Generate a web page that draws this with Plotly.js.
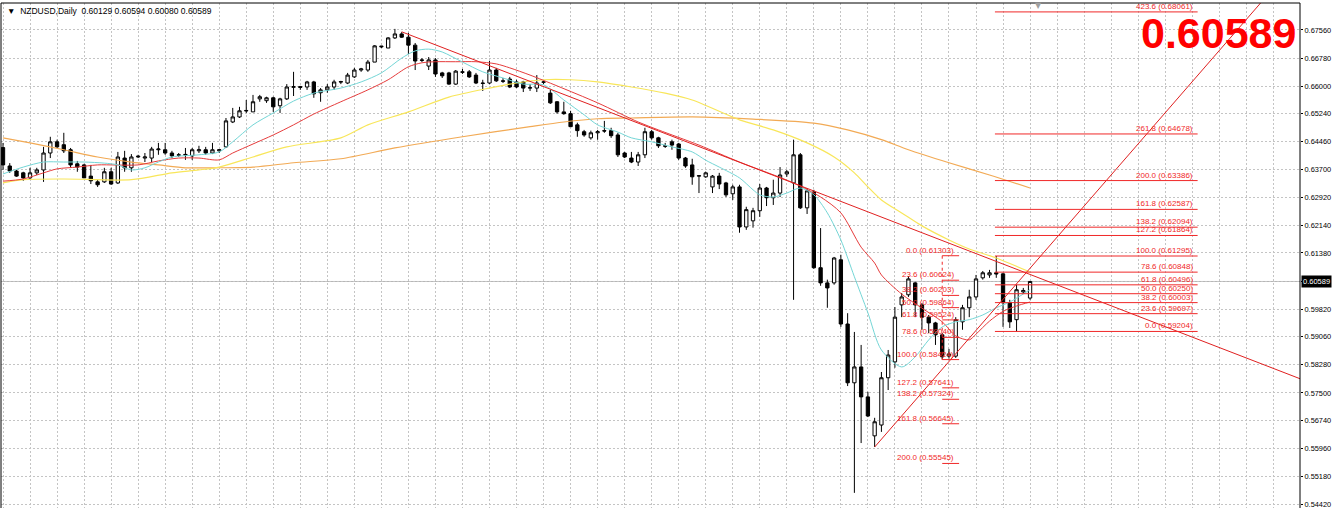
<!DOCTYPE html>
<html><head><meta charset="utf-8">
<script src="https://cdn.plot.ly/plotly-3.0.1.min.js"></script>
<style>html,body{margin:0;padding:0;background:#fff;overflow:hidden}#chart{width:1332px;height:508px}</style>
</head><body><div id="chart"></div>
<script>
// ---------- data ----------
const symbolLabel = "NZDUSD,Daily";
const lastOHLC = ["0.60129", "0.60594", "0.60080", "0.60589"];
const lastPriceText = "0.60589";
const lastPrice = 0.60589;

const opens = [0.6430,0.6379,0.6365,0.6360,0.6346,0.6360,0.6368,0.6415,0.6446,0.6438,
0.6424,0.6385,0.6382,0.6351,0.6335,0.6335,0.6363,0.6332,0.6401,0.6374,
0.6404,0.6401,0.6401,0.6424,0.6424,0.6415,0.6410,0.6409,0.6407,0.6421,
0.6424,0.6415,0.6421,0.6432,0.6501,0.6515,0.6533,0.6529,0.6565,0.6560,
0.6568,0.6546,0.6565,0.6597,0.6599,0.6598,0.6612,0.6582,0.6590,0.6598,
0.6613,0.6609,0.6626,0.6645,0.6645,0.6667,0.6709,0.6706,0.6734,0.6745,
0.6736,0.6714,0.6673,0.6656,0.6673,0.6637,0.6637,0.6606,0.6640,0.6640,
0.6631,0.6609,0.6609,0.6645,0.6615,0.6620,0.6612,0.6612,0.6595,0.6595,
0.6611,0.6581,0.6557,0.6529,0.6524,0.6493,0.6474,0.6457,0.6471,0.6477,
0.6477,0.6465,0.6415,0.6401,0.6390,0.6410,0.6474,0.6457,0.6435,0.6446,
0.6440,0.6401,0.6382,0.6351,0.6349,0.6321,0.6351,0.6332,0.6302,0.6321,
0.6210,0.6227,0.6255,0.6318,0.6291,0.6304,0.6357,0.6332,0.6410,0.6263,
0.6307,0.6097,0.6055,0.6055,0.6119,0.5941,0.5778,0.5822,0.5739,0.5631,
0.5661,0.5792,0.5836,0.5994,0.6022,0.6055,0.5994,0.5960,0.5944,0.5911,
0.5852,0.5852,0.5947,0.5986,0.6016,0.6069,0.6077,0.6083,0.6080,0.6000,
0.5953,0.6030,0.60129];
const highs = [0.6443,0.6387,0.6368,0.6363,0.6374,0.6374,0.6432,0.6460,0.6452,0.6471,
0.6429,0.6393,0.6385,0.6382,0.6341,0.6374,0.6374,0.6418,0.6421,0.6412,
0.6410,0.6415,0.6432,0.6443,0.6443,0.6421,0.6415,0.6429,0.6429,0.6435,
0.6432,0.6443,0.6426,0.6512,0.6540,0.6543,0.6562,0.6576,0.6576,0.6571,
0.6571,0.6568,0.6606,0.6640,0.6601,0.6615,0.6615,0.6595,0.6606,0.6618,
0.6615,0.6637,0.6651,0.6651,0.6673,0.6714,0.6712,0.6736,0.6759,0.6750,
0.6748,0.6720,0.6678,0.6681,0.6678,0.6640,0.6640,0.6645,0.6648,0.6645,
0.6637,0.6618,0.6670,0.6651,0.6623,0.6626,0.6618,0.6615,0.6606,0.6631,
0.6615,0.6590,0.6559,0.6557,0.6532,0.6499,0.6479,0.6477,0.6479,0.6504,
0.6485,0.6471,0.6418,0.6418,0.6418,0.6485,0.6479,0.6460,0.6443,0.6452,
0.6443,0.6404,0.6399,0.6354,0.6363,0.6354,0.6360,0.6335,0.6327,0.6327,
0.6266,0.6263,0.6329,0.6321,0.6341,0.6376,0.6368,0.6452,0.6415,0.6318,
0.6313,0.6207,0.6064,0.6127,0.6133,0.5971,0.5919,0.5883,0.5753,0.5681,
0.5808,0.5869,0.5988,0.6027,0.6074,0.6058,0.5999,0.5966,0.5947,0.5916,
0.5872,0.5960,0.5994,0.6036,0.6077,0.6088,0.6091,0.61295,0.6083,0.6008,
0.6050,0.6041,0.60594];
const lows = [0.6368,0.6360,0.6349,0.6338,0.6341,0.6354,0.6335,0.6401,0.6429,0.6415,
0.6374,0.6363,0.6346,0.6329,0.6321,0.6332,0.6327,0.6329,0.6363,0.6363,
0.6401,0.6390,0.6390,0.6410,0.6410,0.6401,0.6404,0.6396,0.6396,0.6415,
0.6410,0.6412,0.6415,0.6429,0.6498,0.6512,0.6526,0.6529,0.6557,0.6554,
0.6529,0.6526,0.6562,0.6573,0.6590,0.6590,0.6568,0.6557,0.6582,0.6590,
0.6606,0.6606,0.6623,0.6640,0.6640,0.6667,0.6706,0.6706,0.6731,0.6734,
0.6689,0.6645,0.6667,0.6645,0.6626,0.6623,0.6604,0.6604,0.6634,0.6623,
0.6606,0.6587,0.6606,0.6612,0.6609,0.6595,0.6595,0.6584,0.6587,0.6584,
0.6606,0.6551,0.6524,0.6521,0.6488,0.6460,0.6460,0.6452,0.6452,0.6471,
0.6457,0.6404,0.6401,0.6387,0.6379,0.6401,0.6452,0.6429,0.6429,0.6424,
0.6396,0.6374,0.6327,0.6304,0.6346,0.6304,0.6315,0.6293,0.6285,0.6194,
0.6202,0.6208,0.6238,0.6268,0.6271,0.6293,0.6349,0.6008,0.6260,0.6246,
0.6094,0.6047,0.5986,0.6050,0.5933,0.5769,0.5473,0.5611,0.5683,0.5600,
0.5642,0.5758,0.5820,0.5960,0.6016,0.5960,0.5925,0.5916,0.5883,0.58424,
0.5845,0.5847,0.5925,0.5960,0.6008,0.6064,0.6069,0.6069,0.5933,0.5930,
0.59204,0.6025,0.60080];
const closes = [0.6382,0.6365,0.6351,0.6346,0.6360,0.6368,0.6415,0.6446,0.6432,0.6421,
0.6382,0.6376,0.6346,0.6338,0.6327,0.6363,0.6329,0.6404,0.6374,0.6404,
0.6406,0.6404,0.6426,0.6426,0.6415,0.6407,0.6409,0.6411,0.6424,0.6424,
0.6415,0.6424,0.6424,0.6504,0.6515,0.6532,0.6532,0.6557,0.6571,0.6568,
0.6543,0.6565,0.6598,0.6599,0.6597,0.6612,0.6579,0.6590,0.6598,0.6612,
0.6612,0.6631,0.6645,0.6648,0.6667,0.6712,0.6711,0.6734,0.6745,0.6736,
0.6714,0.6670,0.6672,0.6673,0.6634,0.6629,0.6606,0.6642,0.6639,0.6626,
0.6609,0.6608,0.6645,0.6615,0.6614,0.6598,0.6598,0.6595,0.6596,0.6609,
0.6612,0.6554,0.6529,0.6524,0.6488,0.6477,0.6465,0.6471,0.6474,0.6476,
0.6463,0.6410,0.6404,0.6390,0.6410,0.6474,0.6457,0.6435,0.6434,0.6437,
0.6401,0.6379,0.6349,0.6352,0.6360,0.6351,0.6329,0.6299,0.6321,0.6210,
0.6258,0.6255,0.6318,0.6291,0.6304,0.6354,0.6363,0.6410,0.6263,0.6310,
0.6097,0.6055,0.6041,0.6124,0.5941,0.5778,0.5822,0.5739,0.5686,0.5670,
0.5792,0.5855,0.5960,0.6016,0.6066,0.5994,0.5960,0.5944,0.5911,0.5850,
0.5858,0.5953,0.5986,0.6016,0.6066,0.6083,0.6083,0.6080,0.6000,0.5947,
0.6036,0.6034,0.60589];

// moving averages (bar index, price)
const maCyanBars = [0,3,6,9,12,15,17,19,21,23,25,29,32,34,37,40,43,46,50,53,56,59,61,63,65,68,71,74,77,80,83,86,88,91,93,96,99,102,104,106,109,111,112,114,116,118,120,122,124,126,128,130,133,135,137,139,141,143,145,147,149,152];
const maCyanVals = [0.6357,0.6376,0.6390,0.6390,0.6390,0.6387,0.6382,0.6368,0.6374,0.6390,0.6404,0.6410,0.6418,0.6446,0.6493,0.6526,0.6559,0.6581,0.6595,0.6612,0.6637,0.6678,0.6698,0.6703,0.6695,0.6667,0.6640,0.6623,0.6606,0.6604,0.6562,0.6521,0.6493,0.6473,0.6457,0.6446,0.6432,0.6418,0.6395,0.6376,0.6346,0.6313,0.6299,0.6293,0.6304,0.6318,0.6299,0.6249,0.6174,0.6072,0.5972,0.5869,0.5822,0.5850,0.5897,0.5933,0.5947,0.5953,0.5966,0.5986,0.6002,0.6036];
const maRedBars = [0,3,6,8,11,14,20,23,26,29,32,34,37,40,43,46,50,54,57,60,62,64,67,70,73,75,78,82,88,94,97,103,109,117,121,124,127,129,130,133,136,139,141,143,144,146,148,150,152];
const maRedVals = [0.6337,0.6343,0.6360,0.6371,0.6376,0.6382,0.6382,0.6393,0.6401,0.6401,0.6396,0.6415,0.6440,0.6465,0.6493,0.6523,0.6557,0.6590,0.6618,0.6654,0.6665,0.6668,0.6668,0.6668,0.6662,0.6651,0.6631,0.6601,0.6554,0.6501,0.6479,0.6437,0.6390,0.6332,0.6293,0.6249,0.6154,0.6110,0.6077,0.6024,0.5985,0.5947,0.5908,0.5897,0.5913,0.5949,0.5976,0.5991,0.6002];
const maYellowBars = [0,3,9,19,25,29,32,37,42,50,54,60,66,72,76,80,84,88,93,98,102,109,114,119,123,126,128,130,133,136,140,143,147,152];
const maYellowVals = [0.6332,0.6341,0.6343,0.6341,0.6360,0.6368,0.6376,0.6404,0.6432,0.6457,0.6493,0.6529,0.6570,0.6595,0.6609,0.6618,0.6618,0.6612,0.6598,0.6581,0.6562,0.6507,0.6479,0.6443,0.6404,0.6360,0.6321,0.6285,0.6249,0.6213,0.6174,0.6149,0.6124,0.6085];
const maOrangeBars = [0,4,9,14,19,23,27,31,37,43,50,58,68,78,83,88,93,102,111,120,125,130,134,140,146,152];
const maOrangeVals = [0.6457,0.6443,0.6424,0.6404,0.6390,0.6382,0.6374,0.6374,0.6376,0.6388,0.6399,0.6429,0.6460,0.6488,0.6501,0.6510,0.6512,0.6515,0.6509,0.6498,0.6479,0.6452,0.6424,0.6388,0.6354,0.6318];

// trend lines (bar index, price)
const trendDownBars = [59, 192];
const trendDownVals = [0.6751, 0.5789];
const trendUpBars = [129, 186.5];
const trendUpVals = [0.5600, 0.6839];

// Fibonacci sets
const fibRightLevels = ["423.6","261.8","200.0","161.8","138.2","127.2","100.0","78.6","61.8","50.0","38.2","23.6","0.0"];
const fibRightPrices = [0.68061,0.64678,0.63386,0.62587,0.62094,0.61864,0.61295,0.60848,0.60496,0.60250,0.60003,0.59697,0.59204];
const fibLeftLevels = ["0.0","23.6","38.2","50.0","61.8","78.6","100.0","127.2","138.2","161.8","200.0"];
const fibLeftPrices = [0.61303,0.60624,0.60203,0.59864,0.59524,0.59040,0.58424,0.57641,0.57324,0.56645,0.55545];

// y axis tick labels
const yTickVals = [0.67560,0.66780,0.66000,0.65240,0.64460,0.63700,0.62920,0.62140,0.61380,0.60600,0.59820,0.59060,0.58280,0.57500,0.56740,0.55960,0.55180,0.54420];
const yTickText = ["0.67560","0.66780","0.66000","0.65240","0.64460","0.63700","0.62920","0.62140","0.61380","","0.59820","0.59060","0.58280","0.57500","0.56740","0.55960","0.55180","0.54420"];

// ---------- layout constants ----------
const W = 1332, H = 508, ML = 1, MR = 32, MT = 3, MB = 0;
const plotW = W - ML - MR, plotH = H - MT - MB;
const barPx = 6.757;
const xMin = -2 / barPx, xMax = xMin + plotW / barPx;
const yMin = 0.54310, yMax = 0.68308;
const px2paperX = p => (p - ML) / plotW;
const px2paperY = p => 1 - (p - MT) / plotH;

const fibRightX0 = 146.8, fibRightX1 = 176.8, fibRightLabelX = 176.2;
const fibLeftX0 = 139.0, fibLeftX1 = 141.5, fibLeftLabelX = 140.9;
const fibColor = "#f02828";
const labelFont = {family: "Liberation Sans, Arial, sans-serif", size: 8, color: fibColor};

const idx = opens.map((_, i) => i);

const traces = [
  {type: "scatter", mode: "lines", x: maOrangeBars, y: maOrangeVals, line: {color: "#f2aa55", width: 1.2, shape: "spline", smoothing: 0.8}, hoverinfo: "skip"},
  {type: "scatter", mode: "lines", x: maYellowBars, y: maYellowVals, line: {color: "#f8e65a", width: 1.2, shape: "spline", smoothing: 0.8}, hoverinfo: "skip"},
  {type: "scatter", mode: "lines", x: maRedBars, y: maRedVals, line: {color: "#e63c3c", width: 1, shape: "spline", smoothing: 0.8}, hoverinfo: "skip"},
  {type: "scatter", mode: "lines", x: maCyanBars, y: maCyanVals, line: {color: "#74d6d6", width: 1, shape: "spline", smoothing: 0.8}, hoverinfo: "skip"},
  {type: "scatter", mode: "lines", x: trendDownBars, y: trendDownVals, line: {color: "#e02020", width: 1}, hoverinfo: "skip"},
  {type: "scatter", mode: "lines", x: trendUpBars, y: trendUpVals, line: {color: "#e02020", width: 1}, hoverinfo: "skip"},
  {type: "candlestick", x: idx, open: opens, high: highs, low: lows, close: closes,
   increasing: {line: {color: "#000", width: 1}, fillcolor: "#ffffff"},
   decreasing: {line: {color: "#000", width: 1}, fillcolor: "#000000"},
   whiskerwidth: 0, hoverinfo: "skip"}
];

const shapes = [];
// current price line
shapes.push({type: "line", xref: "paper", x0: 0, x1: 1, yref: "y", y0: lastPrice, y1: lastPrice, line: {color: "#b4b4b4", width: 1}, layer: "below"});
// fib lines
fibRightPrices.forEach(p => shapes.push({type: "line", xref: "x", yref: "y", x0: fibRightX0, x1: fibRightX1, y0: p, y1: p, line: {color: fibColor, width: 1}}));
fibLeftPrices.forEach(p => shapes.push({type: "line", xref: "x", yref: "y", x0: fibLeftX0, x1: fibLeftX1, y0: p, y1: p, line: {color: fibColor, width: 1}}));
shapes.push({type: "line", xref: "x", yref: "y", x0: fibLeftX0, x1: fibLeftX0, y0: fibLeftPrices[0], y1: fibLeftPrices[6], line: {color: fibColor, width: 1, dash: "dot"}});
// chart border
shapes.push({type: "line", xref: "paper", yref: "paper", x0: 0, x1: 1, y0: 1, y1: 1, line: {color: "#000", width: 1}});
shapes.push({type: "line", xref: "paper", yref: "paper", x0: 0, x1: 0, y0: 0, y1: 1, line: {color: "#000", width: 1}});
shapes.push({type: "line", xref: "paper", yref: "paper", x0: 1, x1: 1, y0: 0, y1: 1, line: {color: "#000", width: 1}});

const annotations = [];
fibRightLevels.forEach((lv, k) => annotations.push({xref: "x", yref: "y", x: fibRightLabelX, y: fibRightPrices[k], xanchor: "right", yanchor: "bottom", showarrow: false, text: lv + " (" + fibRightPrices[k].toFixed(5) + ")", font: labelFont, borderpad: 0}));
fibLeftLevels.forEach((lv, k) => annotations.push({xref: "x", yref: "y", x: fibLeftLabelX, y: fibLeftPrices[k], xanchor: "right", yanchor: "bottom", showarrow: false, text: lv + " (" + fibLeftPrices[k].toFixed(5) + ")", font: labelFont, borderpad: 0}));
// header text
annotations.push({xref: "paper", yref: "paper", x: px2paperX(5), y: px2paperY(11), xanchor: "left", yanchor: "middle", showarrow: false,
  text: "▼  " + symbolLabel + "  " + lastOHLC.join(" "), font: {family: "Liberation Sans, Arial, sans-serif", size: 8.5, color: "#000"}});
// big price
annotations.push({xref: "paper", yref: "paper", x: px2paperX(1298), y: px2paperY(33), xanchor: "right", yanchor: "middle", showarrow: false,
  text: "<b>" + lastPriceText + "</b>", font: {family: "Liberation Sans, Arial, sans-serif", size: 43, color: "#ff0000"}});
// current price tag on the axis
annotations.push({xref: "paper", yref: "y", x: 1, y: lastPrice, xanchor: "left", yanchor: "middle", showarrow: false,
  text: lastPriceText, bgcolor: "#000", font: {family: "Liberation Sans, Arial, sans-serif", size: 7.5, color: "#fff"}, borderpad: 1, xshift: 1});
// chart shift marker
annotations.push({xref: "paper", yref: "paper", x: px2paperX(1038), y: px2paperY(5), xanchor: "center", yanchor: "middle", showarrow: false,
  text: "▼", font: {family: "DejaVu Sans, sans-serif", size: 8, color: "#a0a0a0"}});

const layout = {
  width: W, height: H,
  margin: {l: ML, r: MR, t: MT, b: MB, pad: 0},
  paper_bgcolor: "#fff", plot_bgcolor: "#fff",
  showlegend: false, hovermode: false, dragmode: false,
  xaxis: {type: "linear", range: [xMin, xMax], rangeslider: {visible: false}, showticklabels: false, ticks: "",
    tick0: 0, dtick: 4, showgrid: true, gridcolor: "#c4c4c4", griddash: "2px,2px", gridwidth: 1, zeroline: false, showline: false, fixedrange: true},
  yaxis: {range: [yMin, yMax], side: "right", tickmode: "array", tickvals: yTickVals, ticktext: yTickText,
    showgrid: true, gridcolor: "#c4c4c4", griddash: "2px,2px", gridwidth: 1, zeroline: false,
    ticks: "outside", ticklen: 2, tickcolor: "#000", tickwidth: 1, ticklabeloverflow: "allow",
    tickfont: {family: "Liberation Sans, Arial, sans-serif", size: 7.4, color: "#000"}, showline: false, fixedrange: true},
  shapes: shapes, annotations: annotations
};

Plotly.newPlot("chart", traces, layout, {staticPlot: true, displayModeBar: false});
</script></body></html>
